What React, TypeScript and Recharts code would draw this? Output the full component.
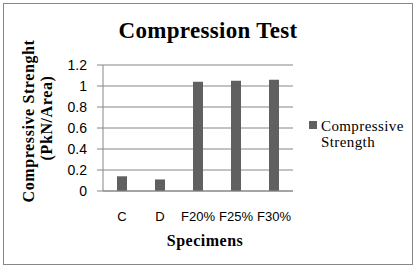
import React from "react";
import {
  BarChart,
  Bar,
  XAxis,
  YAxis,
  CartesianGrid,
} from "recharts";

const specimens = ["C", "D", "F20%", "F25%", "F30%"];
const strength = [0.14, 0.11, 1.04, 1.05, 1.06];
const yTicks = [0, 0.2, 0.4, 0.6, 0.8, 1, 1.2];
const seriesName = "Compressive Strength";

const data = specimens.map((name, i) => ({ name, value: strength[i] }));

const GRID = "#868686";
const BAR = "#606060";
const SERIF = "'Liberation Serif', 'Times New Roman', serif";
const SANS = "'Liberation Sans', Arial, sans-serif";

// two-line rotated title on the left
const YTitle = () => (
  <g fontFamily={SERIF} fontWeight="bold" fontSize={16} fill="#000">
    <text transform="translate(34,121) rotate(-90)" textAnchor="middle" letterSpacing={0.6}>
      Compressive Strenght
    </text>
    <text transform="translate(52,118) rotate(-90)" textAnchor="middle" letterSpacing={0.6}>
      (PkN/Area)
    </text>
  </g>
);

const XTitle = () => (
  <text
    x={205}
    y={246}
    textAnchor="middle"
    fontFamily={SERIF}
    fontWeight="bold"
    fontSize={16}
    letterSpacing={0.5}
    fill="#000"
  >
    Specimens
  </text>
);

const SideLegend = () => {
  const [first, second] = seriesName.split(" ");
  return (
    <div
      style={{
        position: "absolute",
        left: 309,
        top: 118,
        fontFamily: SERIF,
        fontSize: 15,
        lineHeight: "16px",
        letterSpacing: 0.4,
        color: "#000",
      }}
    >
      <div style={{ position: "absolute", left: 0, top: 3, width: 8, height: 8, background: BAR }} />
      <div style={{ marginLeft: 12 }}>
        <div>{first}</div>
        <div>{second}</div>
      </div>
    </div>
  );
};

export default function App() {
  return (
    <div style={{ position: "absolute", left: 0, top: 0, width: 416, height: 268, background: "#fff" }}>
      <div
        style={{
          position: "absolute",
          left: 3,
          top: 3,
          width: 410,
          height: 262,
          boxSizing: "border-box",
          border: `1px solid ${GRID}`,
        }}
      />
      <div
        style={{
          position: "absolute",
          left: 0,
          top: 18,
          width: 416,
          textAlign: "center",
          fontFamily: SERIF,
          fontWeight: "bold",
          fontSize: 23,
          lineHeight: "26px",
          letterSpacing: 0.3,
        }}
      >
        Compression Test
      </div>
      <div style={{ position: "absolute", left: 0, top: 0 }}>
        <BarChart
          width={416}
          height={268}
          data={data}
          margin={{ top: 65, right: 123, bottom: 0, left: 0 }}
        >
          <CartesianGrid vertical={false} stroke={GRID} strokeWidth={1} />
          <XAxis
            dataKey="name"
            height={77}
            axisLine={{ stroke: GRID }}
            tickLine={false}
            tickSize={0}
            tickMargin={21}
            interval={0}
            tick={{ fill: "#000", fontSize: 13, fontFamily: SANS }}
            label={<XTitle />}
          />
          <YAxis
            width={103}
            domain={[0, 1.2]}
            ticks={yTicks}
            interval={0}
            axisLine={{ stroke: GRID }}
            tickLine={{ stroke: GRID }}
            tickSize={6}
            tickMargin={10}
            tick={{ fill: "#000", fontSize: 14, fontFamily: SANS }}
            label={<YTitle />}
          />
          <Bar
            dataKey="value"
            name={seriesName}
            fill={BAR}
            barSize={10}
            isAnimationActive={false}
          />
        </BarChart>
      </div>
      <SideLegend />
    </div>
  );
}
